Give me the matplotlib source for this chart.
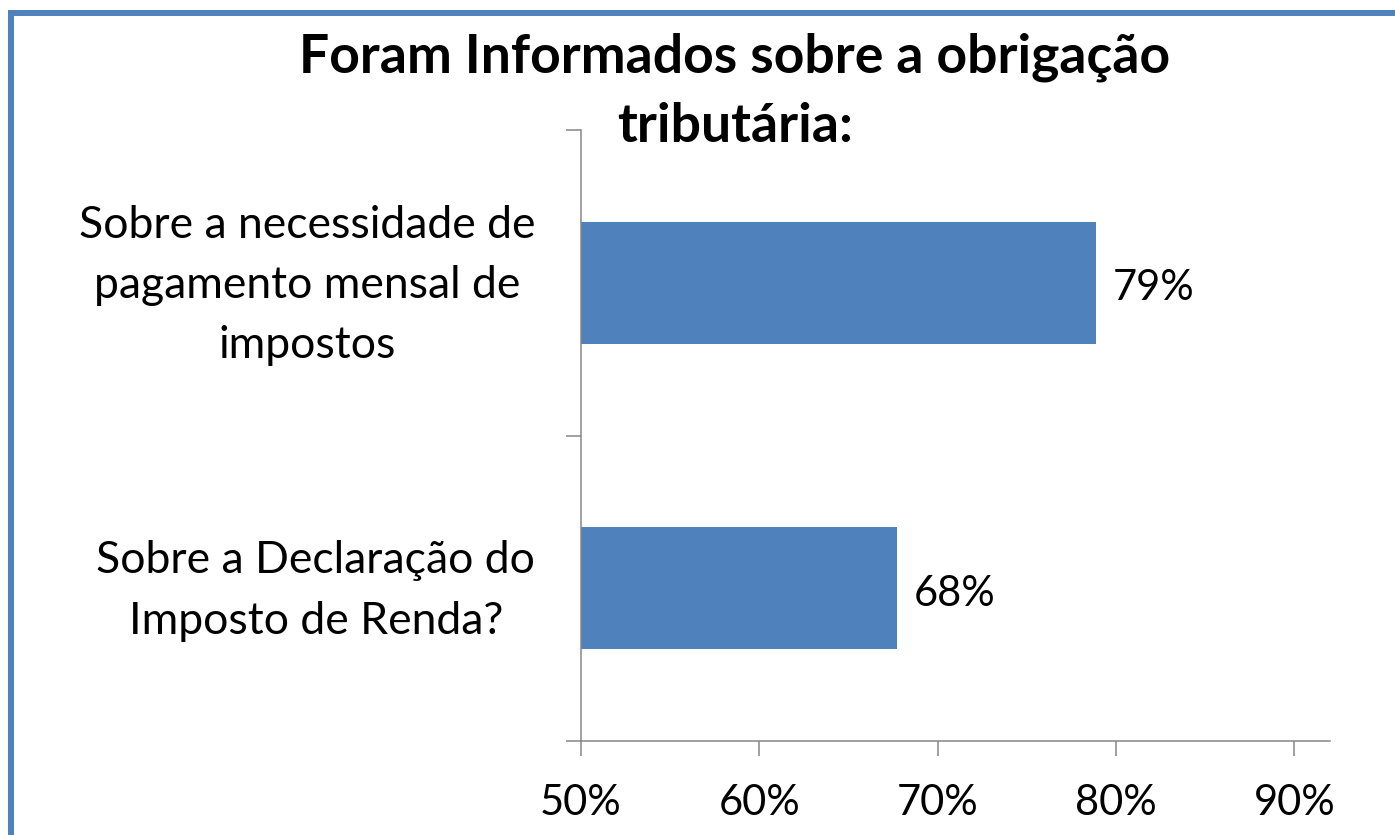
import matplotlib
matplotlib.use("Agg")
import matplotlib.pyplot as plt
from matplotlib.patches import Rectangle

categories = ["Sobre a Declaração do\nImposto de Renda?",
              "Sobre a necessidade de\npagamento mensal de\nimpostos"]
values = [67.7, 78.9]
value_labels = ["68%", "79%"]
xticks = [50, 60, 70, 80, 90]
xtick_labels = ["50%", "60%", "70%", "80%", "90%"]
title = "Foram Informados sobre a obrigação\ntributária:"

plt.rcParams['font.family'] = ['Lato', 'DejaVu Sans']
W, H = 1395, 835
fig = plt.figure(figsize=(W / 100, H / 100), dpi=100)
fig.patch.set_facecolor("white")

# frame border
border = Rectangle((11 / W, -0.05), 1.2, (H - 13) / H + 0.05, transform=fig.transFigure,
                   fill=False, edgecolor="#4f81bd", linewidth=4.3, clip_on=False)
fig.patches.append(border)

ax = fig.add_axes([581 / W, 1 - 741 / H, (1330 - 581) / W, (741 - 130) / H])
ypos = list(range(len(categories)))
bars = ax.barh(ypos, [v - 50 for v in values], left=50, height=0.4, color="#4f81bd")
ax.set_xlim(50, 92)
ax.set_ylim(-0.5, 1.5)
ax.set_xticks(xticks)
ax.set_xticklabels(xtick_labels, fontsize=30)
ax.set_yticks([-0.5, 0.5, 1.5])
ax.set_yticklabels([])
ax.tick_params(axis="y", length=11, width=1.1, color="#868686", direction="out")
ax.tick_params(axis="x", length=11, width=1.1, color="#868686", direction="out", pad=20)
for s in ["top", "right"]:
    ax.spines[s].set_visible(False)
for s in ["left", "bottom"]:
    ax.spines[s].set_color("#868686")
    ax.spines[s].set_linewidth(1.1)

# category labels
for y, cat in zip(ypos, categories):
    ax.annotate(cat, xy=(0, y), xycoords=("axes fraction", "data"),
                xytext=(-33, -2), textcoords="offset points",
                ha="right", va="center", multialignment="center",
                fontsize=32, linespacing=1.58)

for y, v, lab in zip(ypos, values, value_labels):
    ax.annotate(lab, xy=(v, y), xytext=(12, -4), textcoords="offset points",
                va="center", ha="left", fontsize=30)

fig.text(735 / W, 1 - 92 / H, title, ha="center", va="center", fontsize=38.5,
         fontweight="bold", linespacing=1.5)

fig.savefig("out.png", dpi=100, facecolor="white")
